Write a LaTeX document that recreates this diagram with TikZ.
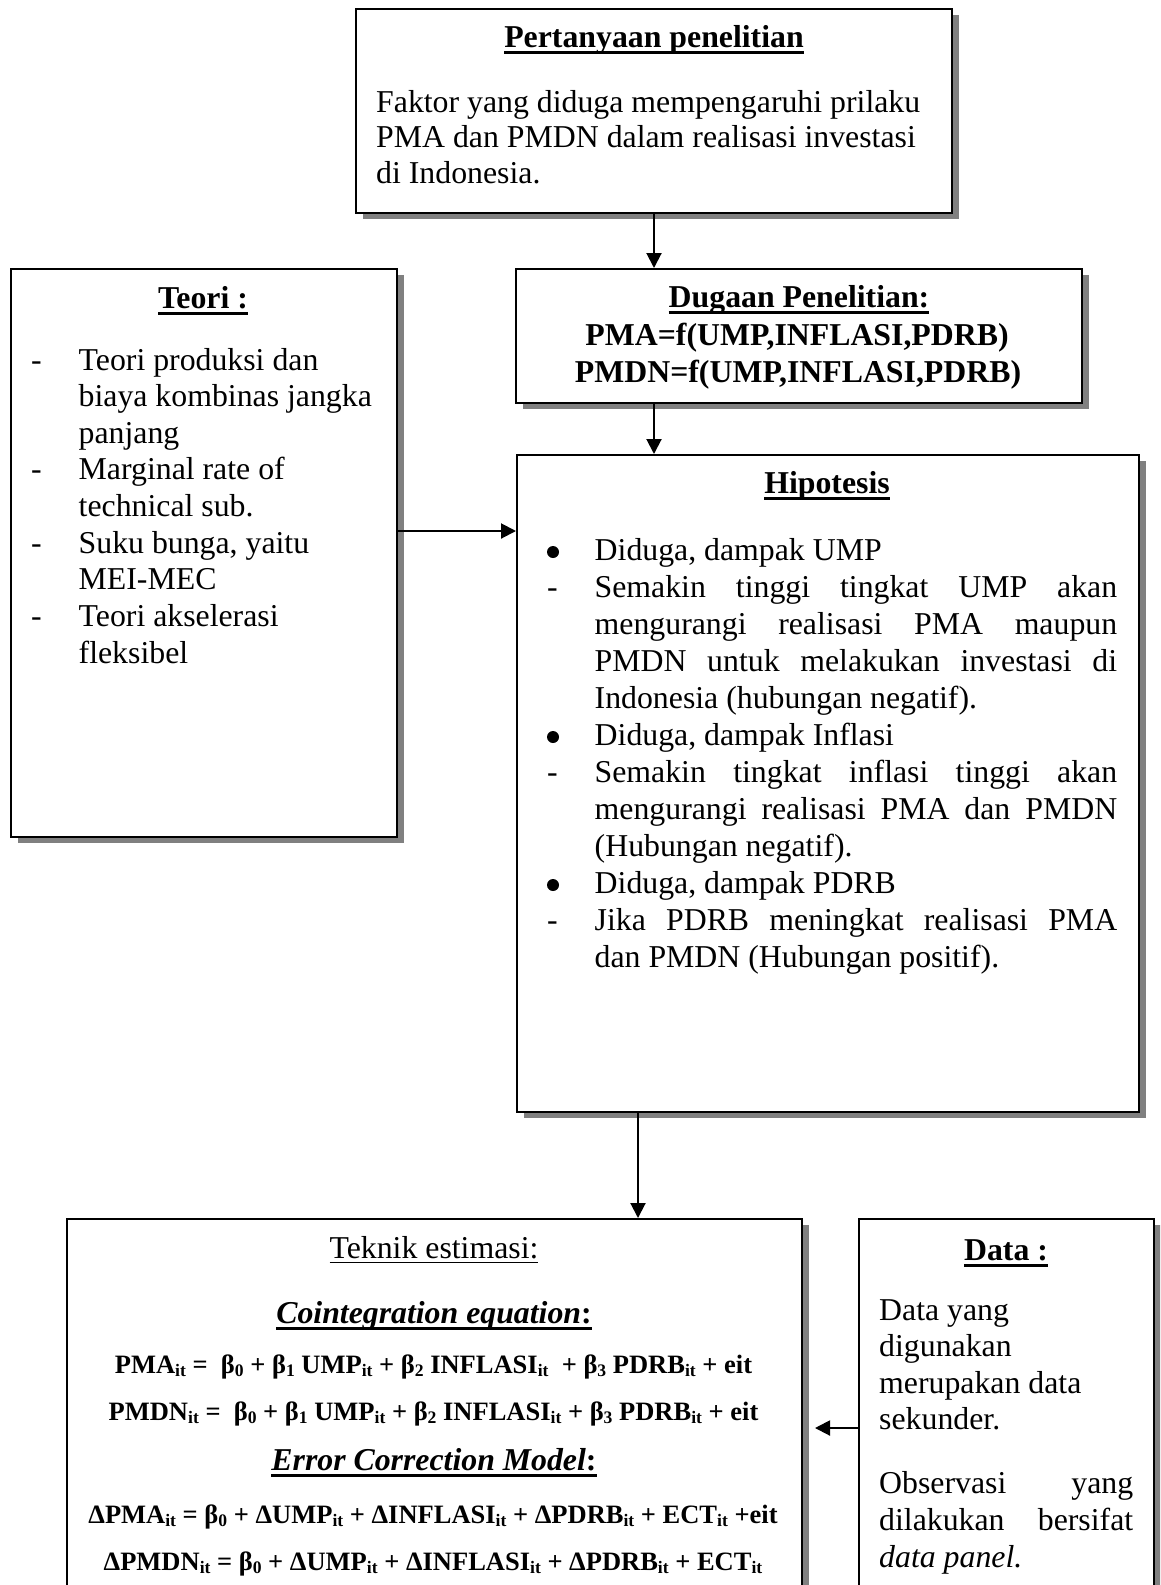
\documentclass[tikz,border=0pt]{standalone}
\usepackage{fontspec}
\setmainfont{Liberation Serif}
\usetikzlibrary{arrows.meta,shadows}
\definecolor{shgray}{gray}{0.5}
\newsavebox\ulbox
\def\uldp{6.6pt}\def\ulht{2.2pt}
\newcommand\myul[1]{\sbox\ulbox{#1}\rlap{\rule[-\uldp]{\wd\ulbox}{\ulht}}\usebox\ulbox}
\newcommand\mk[1]{\makebox[47.5pt][l]{#1}}
\newcommand\jw[2]{\leavevmode\hbox to #1{\spaceskip=\fontdimen2\font plus 1fil\relax #2}}
\newcommand\jl[1]{\jw{522.5pt}{#1}}
\newcommand\sbx[1]{\raisebox{-3.6pt}{\fontsize{17.6}{18}\selectfont #1}}
\begin{document}
\begin{tikzpicture}[x=1pt,y=-1pt,
  box/.style={draw=black,line width=2pt,fill=white,inner sep=0pt,anchor=north west,
    drop shadow={shadow xshift=7pt,shadow yshift=-6pt,fill=shgray,opacity=1}},
  txt/.style={inner sep=0pt,font=\fontsize{31.8}{36.6}\selectfont},
  txtw/.style={txt,anchor=base west,execute at begin node={\spaceskip=0pt\xspaceskip=0pt\relax}},
  ttl/.style={inner sep=0pt,anchor=base,font=\fontsize{31.8}{36.6}\selectfont\bfseries},
  eq/.style={inner sep=0pt,anchor=base,font=\fontsize{26.5}{30}\selectfont\bfseries},
  arr/.style={line width=2pt,-{Triangle[length=15pt,width=15pt]}}]
\clip (0,0) rectangle (1160,1585);
\fill[white] (0,0) rectangle (1160,1585);
% boxes
\node[box,minimum width=596pt,minimum height=204pt] (q) at (355,8) {};
\node[box,minimum width=566pt,minimum height=134pt] (d) at (515,268) {};
\node[box,minimum width=622pt,minimum height=657pt] (h) at (516,454) {};
\node[box,minimum width=386pt,minimum height=568pt] (t) at (10,268) {};
\node[box,minimum width=735pt,minimum height=400pt] (k) at (66,1218) {};
\node[box,minimum width=295pt,minimum height=400pt] (dt) at (858,1218) {};
% top box
\node[ttl] (qt) at (654,47) {\myul{Pertanyaan penelitian}};
\node[txtw,text width=570pt,font=\fontsize{31.8}{35.5}\selectfont] (qx) at (376,112)
  {Faktor yang diduga mempengaruhi prilaku\\PMA dan PMDN dalam realisasi investasi\\di Indonesia.};
% dugaan
\node[ttl] (dtt) at (799,307) {\myul{Dugaan Penelitian:}};
\node[ttl] (d1) at (797,345) {PMA=f(UMP,INFLASI,PDRB)};
\node[ttl] (d2) at (798,382) {PMDN=f(UMP,INFLASI,PDRB)};
% hipotesis
\node[ttl] (ht) at (827,493) {\myul{Hipotesis}};
\node[txtw,text width=570pt,font=\fontsize{31.8}{37}\selectfont] (hx) at (547,560)
  {\mk{}Diduga, dampak UMP\\
   \mk{-}\jl{Semakin tinggi tingkat UMP akan}\\
   \mk{}\jl{mengurangi realisasi PMA maupun}\\
   \mk{}\jl{PMDN untuk melakukan investasi di}\\
   \mk{}Indonesia (hubungan negatif).\\
   \mk{}Diduga, dampak Inflasi\\
   \mk{-}\jl{Semakin tingkat inflasi tinggi akan}\\
   \mk{}\jl{mengurangi realisasi PMA dan PMDN}\\
   \mk{}(Hubungan negatif).\\
   \mk{}Diduga, dampak PDRB\\
   \mk{-}\jl{Jika PDRB meningkat realisasi PMA}\\
   \mk{}dan PMDN (Hubungan positif).};
\fill (553,552) circle (6pt);
\fill (553,737) circle (6pt);
\fill (553,885) circle (6pt);
% teori
\node[ttl] (tt) at (203,308) {\myul{Teori :}};
\node[txtw,text width=360pt,font=\fontsize{31.8}{36.65}\selectfont] (tx) at (31,370)
  {\mk{-}Teori produksi dan\\
   \mk{}biaya kombinas jangka\\
   \mk{}panjang\\
   \mk{-}Marginal rate of\\
   \mk{}technical sub.\\
   \mk{-}Suku bunga, yaitu\\
   \mk{}MEI-MEC\\
   \mk{-}Teori akselerasi\\
   \mk{}fleksibel};
% teknik estimasi
\node[txt,anchor=base] (k0) at (434,1258) {\def\uldp{5.2pt}\def\ulht{1.6pt}\myul{Teknik estimasi:}};
\node[ttl] (k1) at (434,1323) {\myul{\textit{Cointegration equation}:}};
\node[eq] (k2) at (433.5,1373) {PMA\sbx{it} =\ \ β\sbx{0} + β\sbx{1} UMP\sbx{it} + β\sbx{2} INFLASI\sbx{it}\ \ + β\sbx{3} PDRB\sbx{it} + eit};
\node[eq] (k3) at (433.5,1420) {PMDN\sbx{it} =\ \ β\sbx{0} + β\sbx{1} UMP\sbx{it} + β\sbx{2} INFLASI\sbx{it} + β\sbx{3} PDRB\sbx{it} + eit};
\node[ttl] (k4) at (434,1470) {\myul{\textit{Error Correction Model}:}};
\node[eq] (k5) at (433,1523) {ΔPMA\sbx{it} = β\sbx{0} + ΔUMP\sbx{it} + ΔINFLASI\sbx{it} + ΔPDRB\sbx{it} + ECT\sbx{it} +eit};
\node[eq] (k6) at (433,1570) {ΔPMDN\sbx{it} = β\sbx{0} + ΔUMP\sbx{it} + ΔINFLASI\sbx{it} + ΔPDRB\sbx{it} + ECT\sbx{it}};
% data
\node[ttl] (dat) at (1006,1260) {\myul{Data :}};
\node[txtw,text width=254pt] (dx) at (879,1320)
  {Data yang\\digunakan\\merupakan data\\sekunder.\\[27.4pt]\jw{254pt}{Observasi yang}\\\jw{254pt}{dilakukan bersifat}\\\textit{data panel.}};
% connectors
\coordinate (th) at (0,531);
\coordinate (hk) at (638,0);
\coordinate (dk) at (815,1428);
\draw[arr] (q.south) -- (q.south |- d.north);
\draw[arr] (d.south -| q.south) -- (h.north -| q.south);
\draw[arr] (t.east |- th) -- (h.west |- th);
\draw[arr] (h.south -| hk) -- (k.north -| hk);
\draw[arr] (dt.west |- dk) -- (dk);
\end{tikzpicture}
\end{document}
